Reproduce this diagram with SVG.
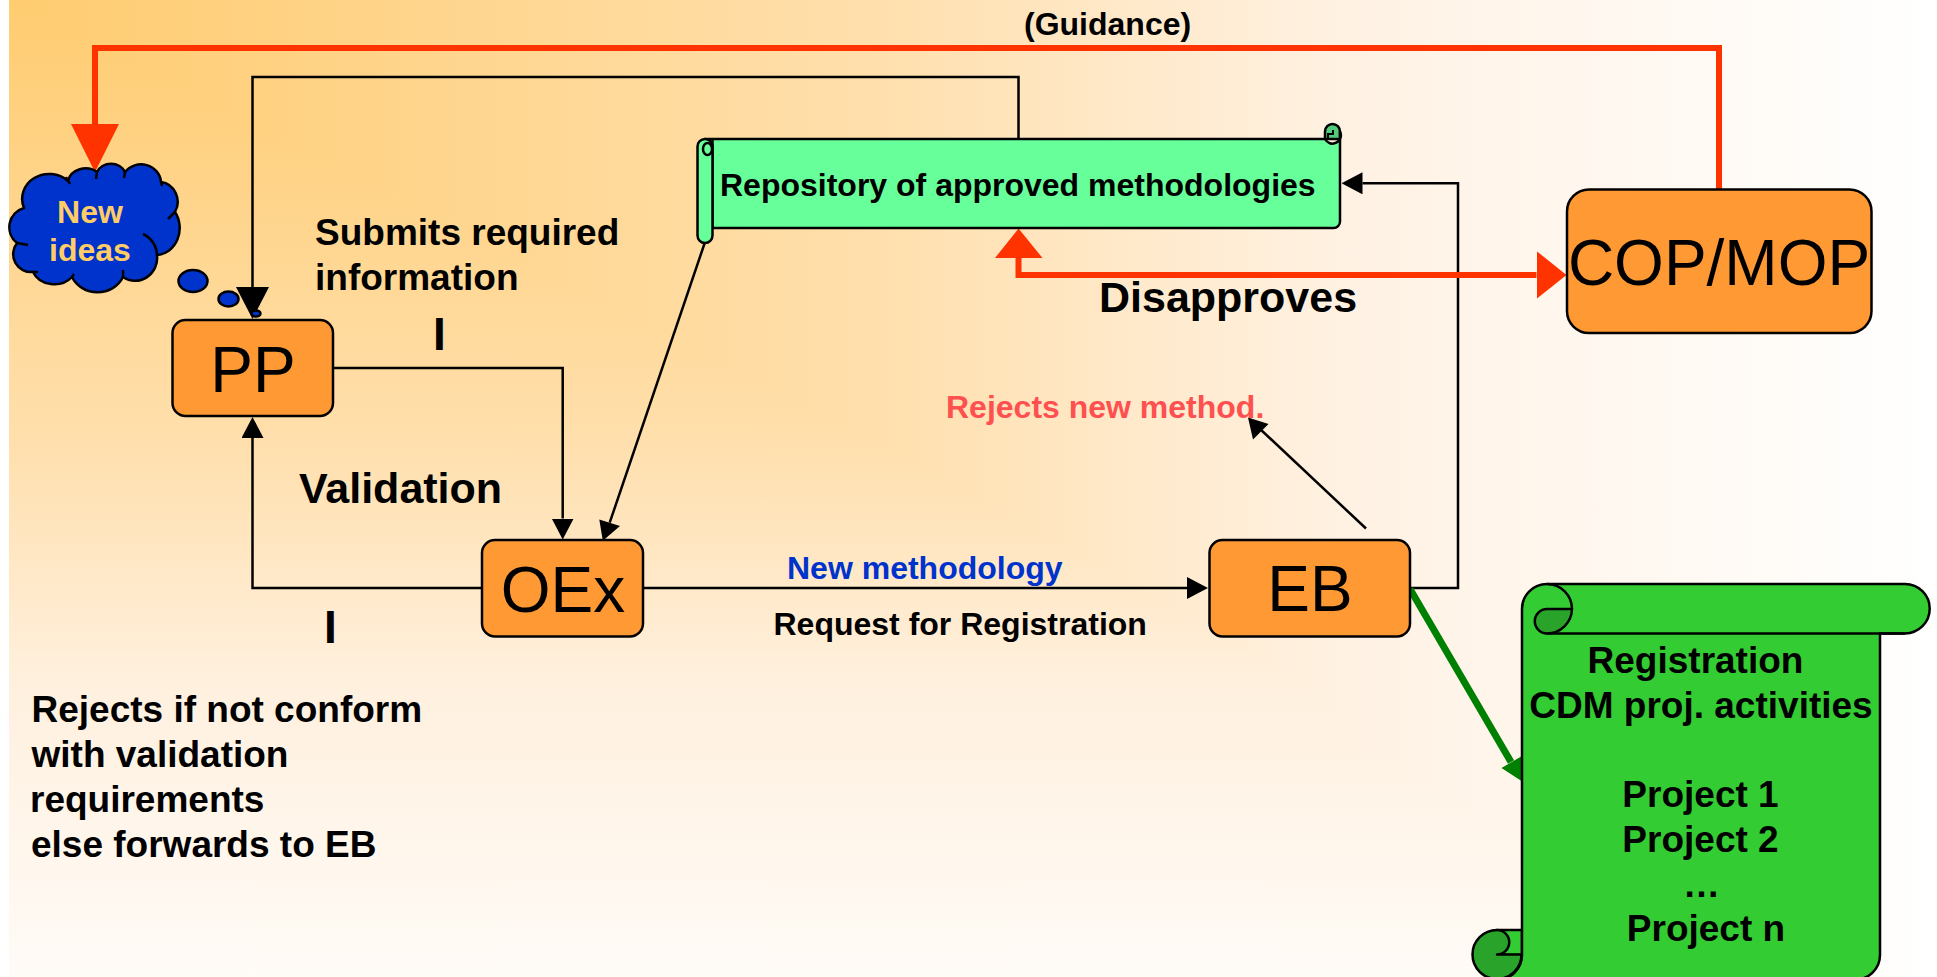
<svg xmlns="http://www.w3.org/2000/svg" width="1937" height="977" viewBox="0 0 1937 977">
  <style>
    text { font-family: "Liberation Sans", Arial, sans-serif; font-weight: 700; fill: #000; }
    .big { font-weight: 400; font-size: 64px; text-anchor: middle; }
    .s32 { font-size: 32px; }
    .s37 { font-size: 37px; }
    .s43 { font-size: 43px; }
    .s46 { font-size: 46px; }
    .mid { text-anchor: middle; }
    .box { fill: #FF9933; stroke: #000; stroke-width: 2.5; }
    .blk { fill: none; stroke: #000; stroke-width: 2.5; }
    .red { fill: none; stroke: #FF3300; stroke-width: 6; }
    .ol { stroke: #000; stroke-width: 2.5; stroke-linejoin: round; }
    .thin { fill: none; stroke: #000; stroke-width: 2.5; }
  </style>
  <defs>
    <linearGradient id="bgx" gradientUnits="userSpaceOnUse" x1="9" y1="0" x2="1937" y2="0">
      <stop offset="0" stop-color="#FFCC70"/>
      <stop offset="0.45" stop-color="#FFDFAC"/>
      <stop offset="0.7" stop-color="#FFF2E4"/>
      <stop offset="1" stop-color="#FFFFFF"/>
    </linearGradient>
    <linearGradient id="bgy" gradientUnits="userSpaceOnUse" x1="0" y1="0" x2="0" y2="977">
      <stop offset="0" stop-color="#FFCC70"/>
      <stop offset="0.45" stop-color="#FFDFAC"/>
      <stop offset="0.7" stop-color="#FFF0DE"/>
      <stop offset="1" stop-color="#FFFBF7"/>
    </linearGradient>
    <marker id="ah" markerUnits="userSpaceOnUse" viewBox="0 0 21 22" refX="0" refY="11" markerWidth="21" markerHeight="22" orient="auto">
      <polygon points="0,0 21,11 0,22" fill="#000"/>
    </marker>
    <marker id="ahBig" markerUnits="userSpaceOnUse" viewBox="0 0 32 33" refX="0" refY="16.5" markerWidth="32" markerHeight="33" orient="auto">
      <polygon points="0,0 32,16.5 0,33" fill="#000"/>
    </marker>
    <marker id="ahRedBig" markerUnits="userSpaceOnUse" viewBox="0 0 48 48" refX="0" refY="24" markerWidth="48" markerHeight="48" orient="auto">
      <polygon points="0,0 48,24 0,48" fill="#FF3300"/>
    </marker>
    <marker id="ahRed" markerUnits="userSpaceOnUse" viewBox="0 0 30 48" refX="0" refY="24" markerWidth="30" markerHeight="48" orient="auto">
      <polygon points="0,0 30,24 0,48" fill="#FF3300"/>
    </marker>
  </defs>

  <rect x="0" y="0" width="1937" height="977" fill="#FFFFFF"/>
  <g id="background" style="isolation:isolate">
    <rect x="9" y="0" width="1928" height="977" fill="url(#bgx)"/>
    <rect x="9" y="0" width="1928" height="977" fill="url(#bgy)" style="mix-blend-mode:lighten"/>
  </g>

  <g id="connectors">
    <path class="blk" d="M1018.5,139 V77 H252.5 V287" marker-end="url(#ahBig)"/>
    <path class="blk" d="M333,368 H562.7 V518.5" marker-end="url(#ah)"/>
    <path class="blk" d="M482,588 H252.5 V438" marker-end="url(#ah)"/>
    <line class="blk" x1="704.7" y1="243" x2="609.7" y2="522.7"/>
    <polygon points="602.8,540.8 599.3,519.5 620,525.9" fill="#000"/>
    <path class="blk" d="M643,588 H1187" marker-end="url(#ah)"/>
    <path class="blk" d="M1410,588 H1458 V183.3 H1362.5" marker-end="url(#ah)"/>
    <line class="blk" x1="1366" y1="528.5" x2="1259" y2="428"/>
    <polygon points="1248,417.5 1268.5,424 1253,439.5" fill="#000"/>
    <path class="red" d="M1719,190 V48 H95 V124" marker-end="url(#ahRedBig)"/>
    <path class="red" d="M1018.5,258 V275 H1536.5" marker-end="url(#ahRed)"/>
    <polygon points="1018.5,228.5 1042.5,258 995,258" fill="#FF3300"/>
    <line x1="1410" y1="589" x2="1511" y2="762" stroke="#008000" stroke-width="7"/>
    <polygon points="1501.5,768 1522,756 1523,782" fill="#008000"/>
  </g>

  <g id="node-new-ideas">
    <path class="ol" fill="#0033CC" d="M24,208 A27,25 0 0 1 68,181 A18,16 0 0 1 97,172 A15,13 0 0 1 125,172 A20,19 0 0 1 161,182 A19,20 0 0 1 175,212 A24,27 0 0 1 157,255 A22,23 0 0 1 123,277 A28,26 0 0 1 72,277 A23,20 0 0 1 33,272 A18,18 0 0 1 17,243 A20,20 0 0 1 24,208 Z"/>
    <path class="thin" d="M66,177 L70,184 M97,172 L96,179 M125,172 L124,178 M161,182 L162,186 M175,212 L168,219 M143,234 A24,24 0 0 1 157,255 M123,270 L123,277 M72,277 L74,274 M33,272 L38,272 M17,243 L28,245"/>
    <ellipse class="ol" fill="#0033CC" cx="193" cy="281" rx="14.5" ry="11"/>
    <ellipse class="ol" fill="#0033CC" cx="228.5" cy="299" rx="10" ry="7.5"/>
    <text class="s32 mid" x="90" y="222.5" style="fill:#FFCC66">New</text>
    <text class="s32 mid" x="90" y="260.5" style="fill:#FFCC66">ideas</text>
  </g>

  <g id="node-pp">
    <rect class="box" x="172.5" y="320" width="160.5" height="96" rx="13"/>
    <text class="big" x="253" y="392">PP</text>
  </g>
  <ellipse id="thought-dot" class="ol" fill="#0033CC" cx="256" cy="313.5" rx="4.5" ry="3" stroke-width="2"/>

  <g id="node-oex">
    <rect class="box" x="482" y="540" width="161" height="96.5" rx="13"/>
    <text class="big" x="563" y="611.5">OEx</text>
  </g>

  <g id="node-eb">
    <rect class="box" x="1209.5" y="540" width="200.5" height="96.5" rx="13"/>
    <text class="big" x="1310" y="611">EB</text>
  </g>

  <g id="node-cop-mop">
    <rect class="box" x="1567" y="189.5" width="304.5" height="143.5" rx="22"/>
    <text class="big" x="1719" y="285">COP/MOP</text>
  </g>

  <g id="node-repository">
    <path class="ol" fill="#52CC7A" d="M1325,139 V131.5 A7.5,7.5 0 0 1 1340,131.5 V139 Z"/>
    <path class="ol" fill="#66FF99" d="M705,139 H1325 A7.5,7.5 0 0 0 1340,131.5 V221.5 A6.5,6.5 0 0 1 1333.5,228 H712.5 V139 Z"/>
    <path fill="none" stroke="#000" stroke-width="2" d="M1328,138 V134 H1333 V130"/>
    <rect class="ol" fill="#66FF99" x="697.5" y="139" width="15" height="104" rx="7.5"/>
    <ellipse fill="none" stroke="#000" stroke-width="2.5" cx="707.5" cy="149" rx="4.5" ry="6"/>
    <text class="s32" x="720" y="196">Repository of approved methodologies</text>
  </g>

  <g id="node-registration">
    <path class="ol" fill="#33CC33" d="M1497,930 H1522 V955 H1497 Z"/>
    <path class="ol" fill="#29A329" d="M1497,930 A24.5,24.5 0 1 0 1521.5,954.5 H1497 A12,12 0 0 0 1497,930 Z"/>
    <path class="ol" fill="#33CC33" d="M1522,609 A25,25 0 0 1 1547,584 H1905 A24.7,24.7 0 0 1 1905,633.4 H1880 V955 A24.5,24.5 0 0 1 1855.5,979.5 H1497 A24.5,24.5 0 0 0 1522,955 Z"/>
    <path class="ol" fill="#29A329" d="M1572,609 H1547 A12.2,12.2 0 0 0 1547,633.4 A25,25 0 0 0 1572,609 Z"/>
    <path class="ol" fill="none" d="M1547,584 A25,25 0 0 1 1572,609 M1547,633.4 H1905"/>
    <text class="s37 mid" x="1695.5" y="673">Registration</text>
    <text class="s37 mid" x="1701" y="717.5">CDM proj. activities</text>
    <text class="s37 mid" x="1700.5" y="806.5">Project 1</text>
    <text class="s37 mid" x="1700.5" y="851.5">Project 2</text>
    <text class="s37 mid" x="1701.5" y="896.5">…</text>
    <text class="s37 mid" x="1706" y="941">Project n</text>
  </g>

  <g id="labels">
    <text class="s32" x="1024" y="34.5">(Guidance)</text>
    <text class="s37" x="315" y="245">Submits required</text>
    <text class="s37" x="315" y="290">information</text>
    <text class="s46 mid" x="439.5" y="350">I</text>
    <text class="s43" x="299" y="502.5">Validation</text>
    <text class="s46 mid" x="330.5" y="643">I</text>
    <text class="s37" x="31.5" y="722">Rejects if not conform</text>
    <text class="s37" x="31.5" y="767">with validation</text>
    <text class="s37" x="30" y="812">requirements</text>
    <text class="s37" x="31" y="856.5">else forwards to EB</text>
    <text class="s43" x="1099" y="312">Disapproves</text>
    <text class="s32" x="946" y="417.5" style="fill:#FF5050">Rejects new method.</text>
    <text class="s32" x="787" y="579" style="fill:#0033CC">New methodology</text>
    <text class="s32" x="773.5" y="635">Request for Registration</text>
  </g>
</svg>
